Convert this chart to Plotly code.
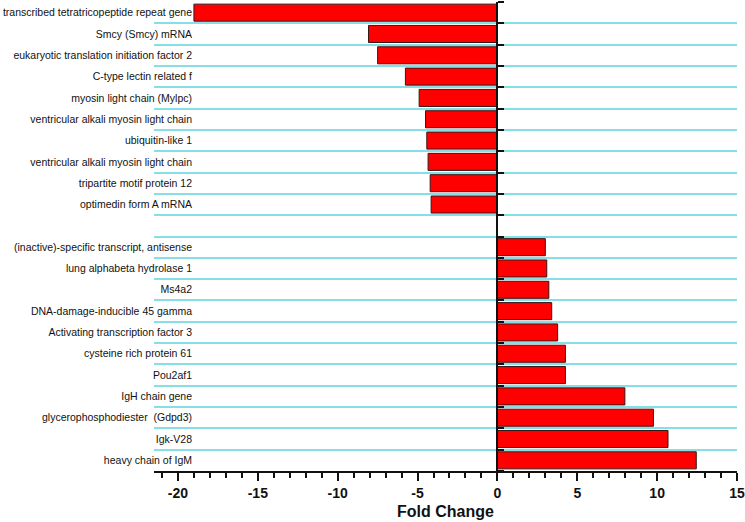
import plotly.graph_objects as go

neg_genes = [
    "transcribed tetratricopeptide repeat gene",
    "Smcy (Smcy) mRNA",
    "eukaryotic translation initiation factor 2",
    "C-type lectin related f",
    "myosin light chain (Mylpc)",
    "ventricular alkali myosin light chain",
    "ubiquitin-like 1",
    "ventricular alkali myosin light chain",
    "tripartite motif protein 12",
    "optimedin form A mRNA",
]
neg_values = [-19.0, -8.07, -7.5, -5.76, -4.9, -4.5, -4.42, -4.34, -4.21, -4.15]

pos_genes = [
    "(inactive)-specific transcript, antisense",
    "lung alphabeta hydrolase 1",
    "Ms4a2",
    "DNA-damage-inducible 45 gamma",
    "Activating transcription factor 3",
    "cysteine rich protein 61",
    "Pou2af1",
    "IgH chain gene",
    "glycerophosphodiester  (Gdpd3)",
    "Igk-V28",
    "heavy chain of IgM",
]
pos_values = [3.0, 3.09, 3.22, 3.4, 3.77, 4.26, 4.26, 7.98, 9.77, 10.68, 12.45]

x_ticks = [-20, -15, -10, -5, 0, 5, 10, 15]
x_range = [-21.5, 15]

labels = neg_genes + [""] + pos_genes
values = neg_values + [None] + pos_values
n = len(labels)
ypos = [n - 1 - i for i in range(n)]
boundaries = [k + 0.5 for k in range(-1, n)]
y_range = [-0.5, n - 0.5]

W, H = 745, 522
ml, mr, mt, mb = 154, 8, 2, 51
pw = W - ml - mr
zero_frac = (0 - x_range[0]) / (x_range[1] - x_range[0])
label_frac = (192 - ml) / pw

fig = go.Figure()
fig.add_trace(go.Bar(
    x=values, y=ypos, orientation="h",
    marker=dict(color="#ff0000", line=dict(color="#3a1515", width=1)),
    showlegend=False, hoverinfo="skip",
))
# invisible companion so the boundary axis (grid + centre line) is rendered
fig.add_trace(go.Scatter(
    x=values, y=ypos, yaxis="y2", mode="markers",
    marker=dict(opacity=0), showlegend=False, hoverinfo="skip",
))

fig.update_layout(
    width=W, height=H,
    margin=dict(l=ml, r=mr, t=mt, b=mb, autoexpand=False),
    paper_bgcolor="white", plot_bgcolor="white",
    bargap=0.2,
    font=dict(family="Liberation Sans, Arial, sans-serif", color="#111"),
    xaxis=dict(
        range=x_range, tickvals=x_ticks, ticktext=[str(v) for v in x_ticks],
        showgrid=False, zeroline=False,
        showline=True, linecolor="#111", linewidth=2,
        ticks="outside", ticklen=8, tickwidth=2, tickcolor="#111",
        minor=dict(dtick=1, ticks="outside", ticklen=5, tickwidth=1.5, tickcolor="#111", showgrid=False),
        tickfont=dict(size=14, weight="bold", color="#111"),
        title=dict(text="Fold Change", font=dict(size=16, weight="bold", color="#111"), standoff=6),
        anchor="y",
    ),
    yaxis=dict(
        range=y_range, tickvals=ypos, ticktext=labels,
        showgrid=False, zeroline=False, showline=False, ticks="",
        anchor="free", position=label_frac, side="left",
        tickfont=dict(size=10.5, color="#111"),
    ),
    yaxis2=dict(
        range=y_range, overlaying="y", anchor="free", position=zero_frac, side="right",
        tickvals=boundaries, showticklabels=False,
        showgrid=True, gridcolor="#86dfe6", gridwidth=1.5,
        showline=True, linecolor="#111", linewidth=1.5,
        ticks="outside", ticklen=6, tickwidth=1.5, tickcolor="#111",
        zeroline=False,
    ),
)

fig.write_html(
    "out.html",
    config={"displayModeBar": False},
    post_script="document.body.style.margin='0';document.body.style.overflow='hidden';",
)
